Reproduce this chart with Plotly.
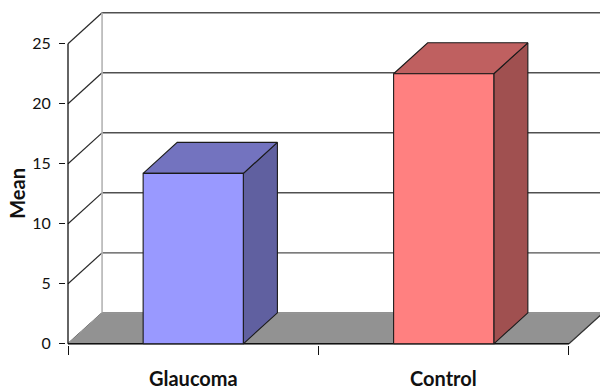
import plotly.graph_objects as go

# ---- data ----
categories = ["Glaucoma", "Control"]
means = [14.2, 22.5]
front_colors = ["#9999FF", "#FF8080"]
top_colors = ["#7373BF", "#BF6060"]
side_colors = ["#6060A0", "#A05050"]
y_ticks = [0, 5, 10, 15, 20, 25]

# ---- oblique projection settings (in axis units) ----
DX = 0.136      # depth shift along x
DY = 2.58       # depth shift along y
BAR_W = 0.4     # bar width as fraction of a category slot
N = len(categories)
Y_MAX = y_ticks[-1]
X_END = 2.124
GRID = "#505050"
EDGE = "#1a1a1a"

fig = go.Figure()


def line(xs, ys, color, width=1.2):
    fig.add_trace(go.Scatter(x=xs, y=ys, mode="lines",
                             line=dict(color=color, width=width),
                             hoverinfo="skip", showlegend=False))


def poly(xs, ys, fill, edge=EDGE, width=1.1):
    fig.add_trace(go.Scatter(x=xs + [xs[0]], y=ys + [ys[0]], mode="lines",
                             fill="toself", fillcolor=fill,
                             line=dict(color=edge, width=width),
                             hoverinfo="skip", showlegend=False))


# back wall gridlines and left side wall diagonals
for v in y_ticks:
    line([DX, X_END + 0.1], [v + DY, v + DY], GRID, 1.4)
    line([0, DX], [v, v + DY], "#2a2a2a", 1.2)
# back wall left edge
line([DX, DX], [DY, Y_MAX + DY], "#b4b4b4", 1.6)
# front value axis
line([0, 0], [0, Y_MAX], "#111111", 1.3)

# floor
poly([0, N, N + DX, DX], [0, 0, DY, DY], "#929292", edge="#9a9a9a", width=1)
line([N, N + DX], [0, DY], "#333333", 1.2)
line([0, N], [0, 0], "#111111", 1.4)

# 3D bars
for i, (cat, v) in enumerate(zip(categories, means)):
    c = i + 0.5
    x0, x1 = c - BAR_W / 2, c + BAR_W / 2
    # side face
    poly([x1, x1 + DX, x1 + DX, x1], [0, DY, v + DY, v], side_colors[i])
    # top face
    poly([x0, x1, x1 + DX, x0 + DX], [v, v, v + DY, v + DY], top_colors[i])
    # front face
    poly([x0, x1, x1, x0], [0, 0, v, v], front_colors[i])

# category labels under each slot
annotations = [dict(text=f"<b>{cat}</b>", x=i + 0.5, y=0, xref="x", yref="y",
                    yanchor="middle", yshift=-34, showarrow=False,
                    font=dict(size=20, color="#111111"))
               for i, cat in enumerate(categories)]
annotations.append(dict(text="<b>Mean</b>", textangle=-90, xref="paper", x=0,
                        xshift=-49, xanchor="center", yref="y", y=Y_MAX / 2,
                        showarrow=False, font=dict(size=20, color="#111111")))

fig.update_layout(
    width=600, height=389,
    margin=dict(l=66, r=0, t=5, b=44),
    paper_bgcolor="white", plot_bgcolor="white",
    showlegend=False,
    font=dict(family="Lato, 'Open Sans', sans-serif", color="#111111"),
    xaxis=dict(range=[-0.008, X_END], tickvals=[0, 1, 2], ticks="outside",
               ticklen=9, tickcolor="#111111", tickwidth=1.3,
               showticklabels=False, showgrid=False, zeroline=False,
               showline=False, fixedrange=True),
    yaxis=dict(range=[-0.1, 28.23], tickvals=y_ticks, ticks="outside",
               ticklen=6, tickcolor="#111111", tickwidth=1.3,
               tickfont=dict(size=16, color="#111111"),
               ticklabelstandoff=5,
               showgrid=False, zeroline=False, showline=False, fixedrange=True),
    annotations=annotations,
)

fig.write_html("out.html")
